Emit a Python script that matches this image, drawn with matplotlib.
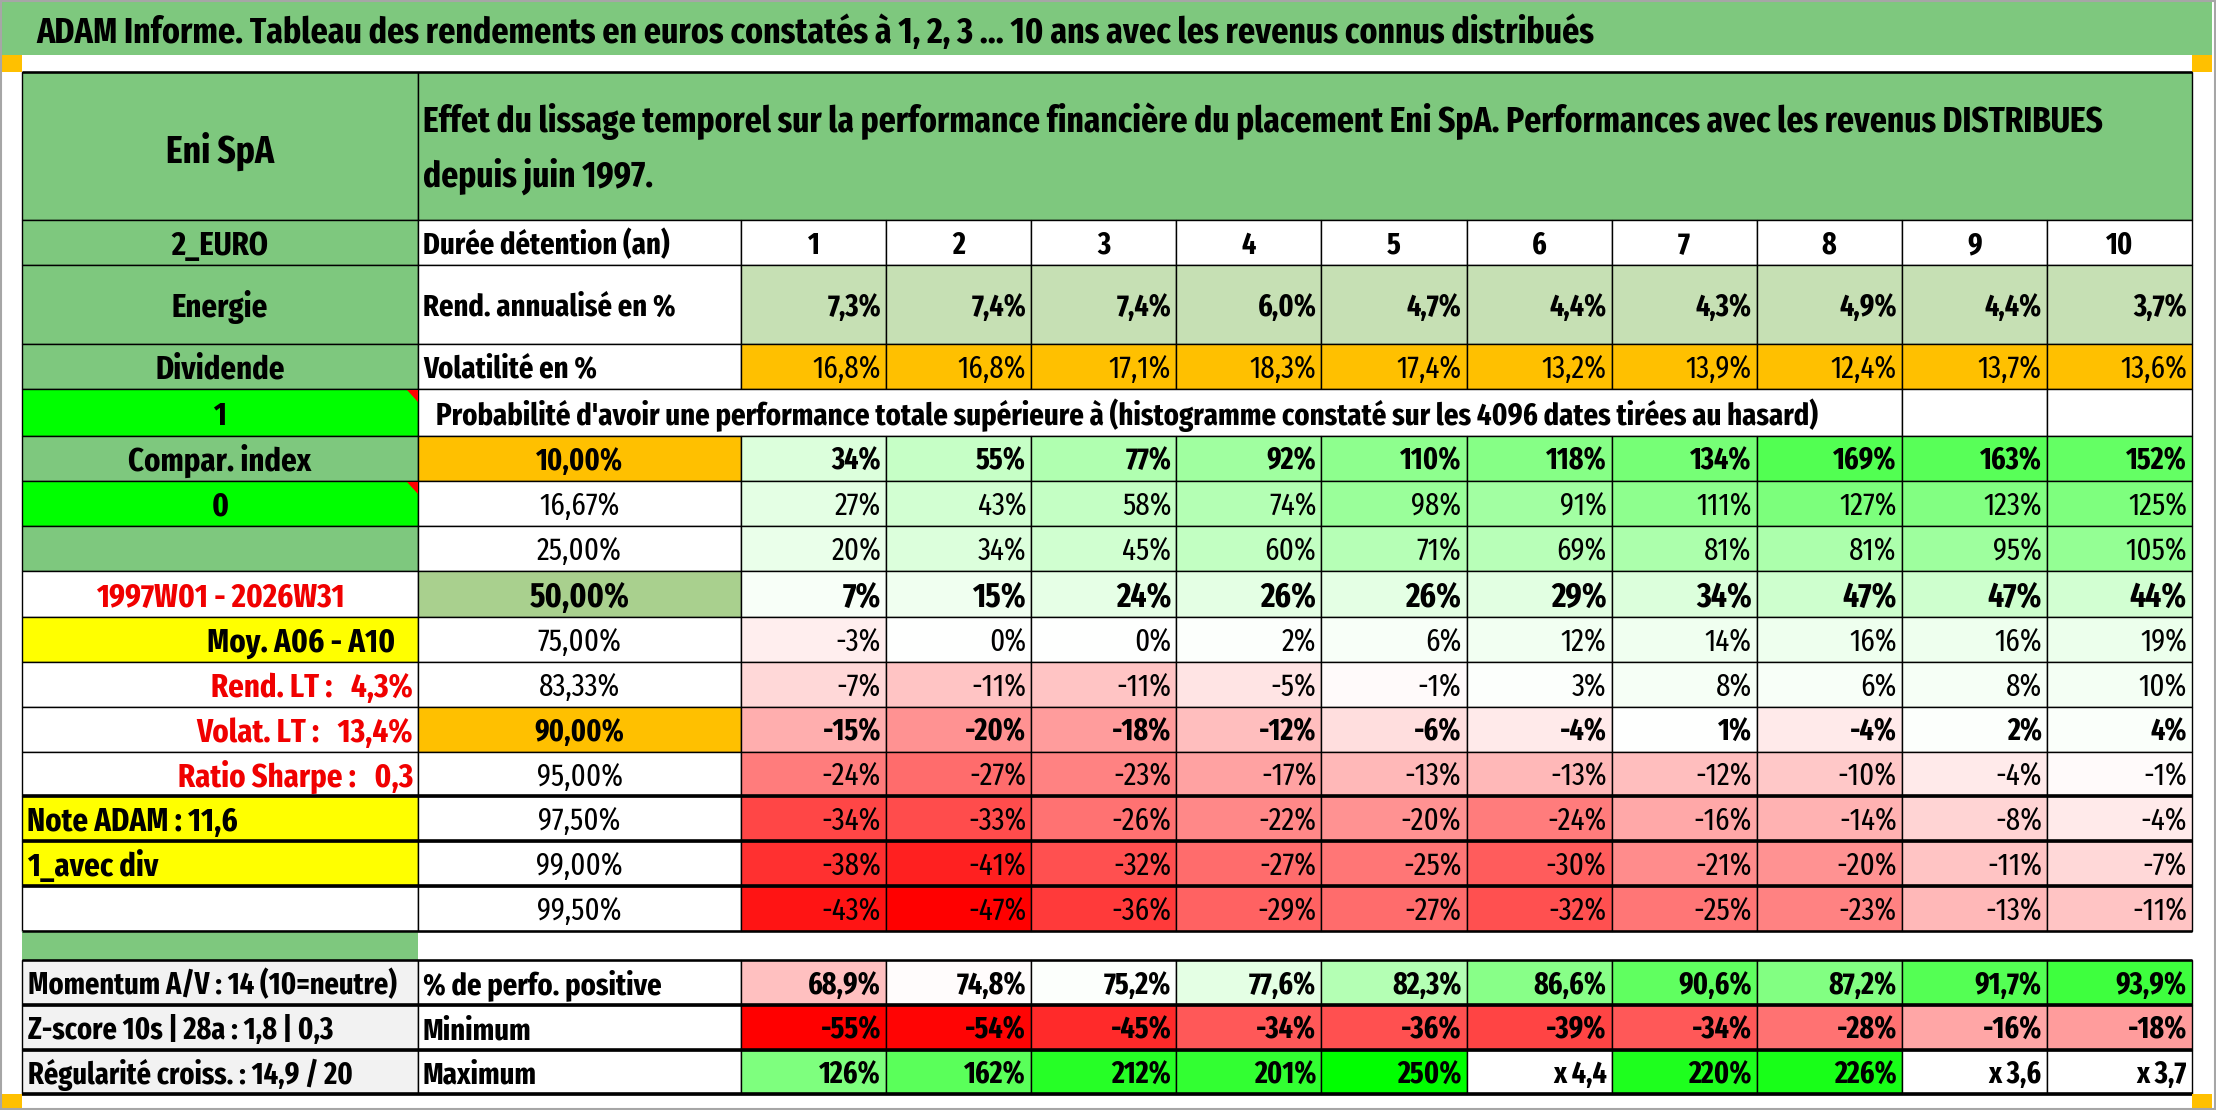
import numpy as np
import matplotlib
matplotlib.use("Agg")
import matplotlib.pyplot as plt
from matplotlib.patches import Rectangle, Polygon
from matplotlib.colors import LinearSegmentedColormap, TwoSlopeNorm
from matplotlib import font_manager

title = ("ADAM Informe. Tableau des rendements en euros constatés à 1, 2, 3 \u2026 10 ans "
         "avec les revenus connus distribués")
header_line1 = ("Effet du lissage temporel sur la performance financière du placement Eni SpA. "
                "Performances avec les revenus DISTRIBUES")
header_line2 = "depuis juin 1997."
proba_text = ("Probabilité d'avoir une performance totale supérieure à "
              "(histogramme constaté sur les 4096 dates tirées au hasard)")
name = "Eni SpA"

years = [1, 2, 3, 4, 5, 6, 7, 8, 9, 10]
rend_annualise = [7.3, 7.4, 7.4, 6.0, 4.7, 4.4, 4.3, 4.9, 4.4, 3.7]
volatilite = [16.8, 16.8, 17.1, 18.3, 17.4, 13.2, 13.9, 12.4, 13.7, 13.6]

quantile_labels = ["10,00%", "16,67%", "25,00%", "50,00%", "75,00%", "83,33%",
                   "90,00%", "95,00%", "97,50%", "99,00%", "99,50%"]
perf_q10 = [34, 55, 77, 92, 110, 118, 134, 169, 163, 152]
perf_q16 = [27, 43, 58, 74, 98, 91, 111, 127, 123, 125]
perf_q25 = [20, 34, 45, 60, 71, 69, 81, 81, 95, 105]
perf_q50 = [7, 15, 24, 26, 26, 29, 34, 47, 47, 44]
perf_q75 = [-3, 0, 0, 2, 6, 12, 14, 16, 16, 19]
perf_q83 = [-7, -11, -11, -5, -1, 3, 8, 6, 8, 10]
perf_q90 = [-15, -20, -18, -12, -6, -4, 1, -4, 2, 4]
perf_q95 = [-24, -27, -23, -17, -13, -13, -12, -10, -4, -1]
perf_q975 = [-34, -33, -26, -22, -20, -24, -16, -14, -8, -4]
perf_q99 = [-38, -41, -32, -27, -25, -30, -21, -20, -11, -7]
perf_q995 = [-43, -47, -36, -29, -27, -32, -25, -23, -13, -11]

perf_positive = [68.9, 74.8, 75.2, 77.6, 82.3, 86.6, 90.6, 87.2, 91.7, 93.9]
minimum = [-55, -54, -45, -34, -36, -39, -34, -28, -16, -18]
maximum = [126, 162, 212, 201, 250, None, 220, 226, None, None]
maximum_multiple = [None, None, None, None, None, 4.4, None, None, 3.6, 3.7]

side_labels = ["2_EURO", "Energie", "Dividende", "1", "Compar. index", "0", "",
               "1997W01 - 2026W31", "Moy. A06 - A10", "Rend. LT :   4,3%",
               "Volat. LT :   13,4%", "Ratio Sharpe :   0,3", "Note ADAM : 11,6",
               "1_avec div", ""]
top_row_labels = ["Durée détention (an)", "Rend. annualisé en %", "Volatilité en %"]
bottom_side_labels = ["Momentum A/V : 14 (10=neutre)", "Z-score 10s | 28a : 1,8 | 0,3",
                      "Régularité croiss. : 14,9 / 20"]
bottom_row_labels = ["% de perfo. positive", "Minimum", "Maximum"]

perf_rows = [perf_q10, perf_q16, perf_q25, perf_q50, perf_q75, perf_q83,
             perf_q90, perf_q95, perf_q975, perf_q99, perf_q995]

# ---- font: a narrow humanist face, the sheet text looks squeezed ----
available = {f.name for f in font_manager.fontManager.ttflist}
FONT = "DejaVu Sans Condensed"
for cand in ["Fira Sans Extra Condensed", "PT Sans Narrow", "Carlito"]:
    if cand in available:
        FONT = cand
        break
plt.rcParams["font.family"] = [FONT, "DejaVu Sans"]
CAP = 0.69

# ---- colours ----
HDR_GREEN = "#7EC87E"
LIGHT_GREEN = "#C6E0B4"
MID_GREEN = "#A9D08E"
ORANGE = "#FFC000"
LIME = "#00FF00"
YELLOW = "#FFFF00"
GREY = "#F2F2F2"
RED_TXT = "#F00000"
cmap = LinearSegmentedColormap.from_list("rwg", ["#FF0000", "#FFFFFF", "#00FF00"])
norm_perf = TwoSlopeNorm(vmin=-47, vcenter=0, vmax=250)
norm_pos = TwoSlopeNorm(vmin=50, vcenter=75, vmax=100)
norm_min = TwoSlopeNorm(vmin=-55, vcenter=5, vmax=65)
norm_max = TwoSlopeNorm(vmin=-250, vcenter=0, vmax=250)

# ---- layout (pixels) ----
W, H = 2216, 1110
fig = plt.figure(figsize=(W / 100, H / 100), dpi=100)
ax = fig.add_axes([0, 0, 1, 1])
ax.set_xlim(0, W)
ax.set_ylim(H, 0)
ax.axis("off")
renderer = fig.canvas.get_renderer()

X0, X1, X2, XR = 22, 418, 741, 2192
CW = (XR - X2) / 10
xs = [X0, X1] + [X2 + i * CW for i in range(11)]
ys = [72, 220, 265, 344, 389, 436, 481, 526, 571, 617, 662, 707, 752, 796,
      841, 886, 931, 960, 1005, 1050, 1094]
THIN, MED, THICK = 1.0, 1.8, 2.6


def size_for(s, width, weight="bold"):
    t = ax.text(0, 0, s, fontsize=20, fontweight=weight)
    w = t.get_window_extent(renderer).width
    t.remove()
    return 20 * width / w


S_ENI = size_for("Eni SpA", 108)
S_SIDE = size_for("Note ADAM : 11,6", 211)
S_BOTTOM = size_for("Momentum A/V : 14 (10=neutre)", 370)
S_LAB = size_for("Durée détention (an)", 248)
S_REG = size_for("16,67%", 80, "normal")
S_BOLD = size_for("10,00%", 87)
S_BIG = size_for("50,00%", 100)


def cell(r, c0, c1, fill="white", edge=True):
    ax.add_patch(Rectangle((xs[c0], ys[r]), xs[c1] - xs[c0], ys[r + 1] - ys[r],
                           facecolor=fill, edgecolor="black" if edge else "none",
                           lw=THIN, zorder=1))


def text(r, c0, c1, s, ha="center", size=S_BOLD, weight="bold", color="black", pad=6):
    x = {"left": xs[c0] + pad, "right": xs[c1] - pad, "center": (xs[c0] + xs[c1]) / 2}[ha]
    yb = (ys[r] + ys[r + 1]) / 2 + CAP / 2 * size * 100 / 72 + 1
    return ax.text(x, yb, s, ha=ha, va="baseline", fontsize=size,
                   fontweight=weight, color=color, zorder=5)


def fit(t, width):
    w = t.get_window_extent(renderer).width
    t.set_fontsize(t.get_fontsize() * width / w)


def pct(v, dec=0):
    return (f"{v:.{dec}f}%").replace(".", ",")


# outer frame, title bar and corner marks
ax.add_patch(Rectangle((0, 0), 2212, 55, facecolor=HDR_GREEN, edgecolor="none", zorder=0))
ax.add_patch(Rectangle((1, 1), W - 2, H - 2, facecolor="none", edgecolor="#A6A6A6", lw=1.5, zorder=6))
for (x, y, w, h) in [(0, 55, 22, 17), (2192, 55, 20, 17), (0, 1094, 22, 15), (2192, 1094, 20, 15)]:
    ax.add_patch(Rectangle((x, y), w, h, facecolor=ORANGE, edgecolor="none", zorder=2))
t = ax.text(36, 43, title, fontsize=24, fontweight="bold", va="baseline", zorder=5)
fit(t, 1559)

# header block
cell(0, 0, 1, HDR_GREEN)
cell(0, 1, 12, HDR_GREEN)
ax.text(220, 163, name, ha="center", va="baseline", fontsize=S_ENI, fontweight="bold", zorder=5)
t1 = ax.text(423, 132, header_line1, va="baseline", fontsize=24, fontweight="bold", zorder=5)
fit(t1, 1677)
ax.text(423, 187, header_line2, va="baseline", fontsize=t1.get_fontsize(), fontweight="bold", zorder=5)

# side column (rows 1..15)
side_style = [
    (HDR_GREEN, "center", "black"), (HDR_GREEN, "center", "black"), (HDR_GREEN, "center", "black"),
    (LIME, "center", "black"), (HDR_GREEN, "center", "black"), (LIME, "center", "black"),
    (HDR_GREEN, "center", "black"), ("white", "center", RED_TXT), (YELLOW, "right", "black"),
    ("white", "right", RED_TXT), ("white", "right", RED_TXT), ("white", "right", RED_TXT),
    (YELLOW, "left", "black"), (YELLOW, "left", "black"), ("white", "left", "black"),
]
for i, (lab, (fill, ha, col)) in enumerate(zip(side_labels, side_style)):
    r = i + 1
    cell(r, 0, 1, fill)
    t = text(r, 0, 1, lab, ha=ha, color=col, size=S_SIDE, pad=5)
    if lab.startswith("Moy"):
        t.set_x(X1 - 23)
for r in (4, 6):
    ax.add_patch(Polygon([(X1 - 11, ys[r] + 0.5), (X1, ys[r] + 0.5), (X1, ys[r] + 13)],
                         closed=True, facecolor="#FF0000", edgecolor="none", zorder=4))

# rows 1..3 : durée, rendement, volatilité
for i, lab in enumerate(top_row_labels):
    cell(i + 1, 1, 2)
    text(i + 1, 1, 2, lab, ha="left", size=S_LAB, pad=5)
for j in range(10):
    cell(1, 2 + j, 3 + j)
    text(1, 2 + j, 3 + j, str(years[j]))
    cell(2, 2 + j, 3 + j, LIGHT_GREEN)
    text(2, 2 + j, 3 + j, pct(rend_annualise[j], 1), ha="right", pad=5)
    cell(3, 2 + j, 3 + j, ORANGE)
    text(3, 2 + j, 3 + j, pct(volatilite[j], 1), ha="right", pad=5, size=S_REG, weight="normal")

# probability row
cell(4, 1, 10)
cell(4, 10, 11)
cell(4, 11, 12)
t = ax.text(436, ys[5] - 11, proba_text, va="baseline", fontsize=19, fontweight="bold", zorder=5)
fit(t, 1380)

# quantile block
q_fill = {0: ORANGE, 3: MID_GREEN, 6: ORANGE}
q_bold = {0, 3, 6}
for k, (lab, vals) in enumerate(zip(quantile_labels, perf_rows)):
    r = 5 + k
    if k == 3:
        size, w = S_BIG, "bold"
    elif k in q_bold:
        size, w = S_BOLD, "bold"
    else:
        size, w = S_REG, "normal"
    cell(r, 1, 2, q_fill.get(k, "white"))
    text(r, 1, 2, lab, size=size, weight=w)
    for j, v in enumerate(vals):
        cell(r, 2 + j, 3 + j, cmap(norm_perf(v)))
        text(r, 2 + j, 3 + j, pct(v), ha="right", pad=5, size=size, weight=w)

# gap row
ax.add_patch(Rectangle((X0, ys[16]), X1 - X0, ys[17] - ys[16], facecolor=HDR_GREEN,
                       edgecolor="none", zorder=1))

# bottom block
for i, (slab, rlab) in enumerate(zip(bottom_side_labels, bottom_row_labels)):
    r = 17 + i
    cell(r, 0, 1, GREY)
    text(r, 0, 1, slab, ha="left", size=S_BOTTOM, pad=6)
    cell(r, 1, 2)
    text(r, 1, 2, rlab, ha="left", size=S_LAB, pad=5)
for j in range(10):
    cell(17, 2 + j, 3 + j, cmap(norm_pos(perf_positive[j])))
    text(17, 2 + j, 3 + j, pct(perf_positive[j], 1), ha="right", pad=5)
    cell(18, 2 + j, 3 + j, cmap(norm_min(minimum[j])))
    text(18, 2 + j, 3 + j, pct(minimum[j]), ha="right", pad=5)
    if maximum[j] is not None:
        cell(19, 2 + j, 3 + j, cmap(norm_max(maximum[j])))
        text(19, 2 + j, 3 + j, pct(maximum[j]), ha="right", pad=5)
    else:
        cell(19, 2 + j, 3 + j)
        text(19, 2 + j, 3 + j, "x " + f"{maximum_multiple[j]:.1f}".replace(".", ","), ha="right", pad=5)

# heavier rules
ax.hlines([796, 841, 886, 1005, 1050, 1094], X0, XR, color="black", lw=THICK, zorder=3)
ax.hlines([931, 960], X0, XR, color="black", lw=MED, zorder=3)
ax.hlines([72], X0, XR, color="black", lw=MED, zorder=3)

fig.savefig("out.png", dpi=100)
